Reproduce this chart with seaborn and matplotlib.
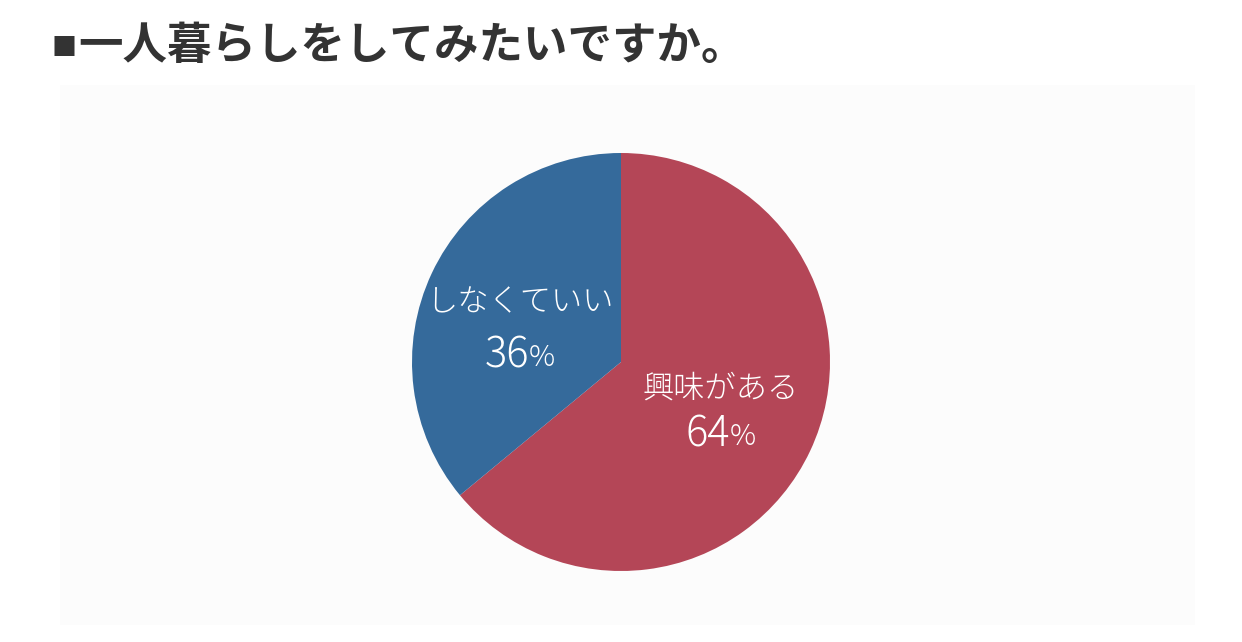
import matplotlib
matplotlib.use("Agg")
import matplotlib.pyplot as plt
import seaborn as sns
from matplotlib.patches import Rectangle

# data
labels = ["興味がある", "しなくていい"]
values = [64, 36]
colors = ["#b44657", "#356a9b"]
title_mark = "■"
title = "一人暮らしをしてみたいですか。"

sns.set_theme(style="white")
plt.rcParams["font.family"] = ["Noto Sans CJK JP", "DejaVu Sans"]

fig = plt.figure(figsize=(12.42, 6.42), dpi=100)
fig.patch.set_facecolor("white")

# faint panel behind the chart
fig.patches.append(Rectangle((60 / 1242, 1 - 625 / 642), 1135 / 1242, 540 / 642,
                             transform=fig.transFigure, facecolor="#fcfcfc",
                             edgecolor="none", zorder=-1))

ax = fig.add_axes([412 / 1242, 71 / 642, 418 / 1242, 418 / 642])
ax.patch.set_alpha(0)
ax.pie(values, colors=colors, startangle=90, counterclock=False,
       radius=1, wedgeprops=dict(linewidth=0))
ax.set_xlim(-1, 1)
ax.set_ylim(-1, 1)
ax.set_aspect("equal")
ax.axis("off")

# label positions (data coords inside the pie)
label_pos = [(0.475, -0.125), (-0.485, 0.285)]
pct_pos = [(0.47, -0.35), (-0.49, 0.03)]
for lab, val, (lx, ly), (px, py) in zip(labels, values, label_pos, pct_pos):
    ax.text(lx, ly, lab, color="white", fontsize=22.5, fontweight="light",
            ha="center", va="center")
    ax.text(px + 0.05, py, str(val), color="white", fontsize=30,
            fontweight="light", ha="right", va="center")
    ax.text(px + 0.05, py - 0.01, "%", color="white", fontsize=21,
            fontweight="light", ha="left", va="center")

fig.text(52 / 1242, 1 - 48 / 642, title_mark, fontsize=18, fontweight="bold",
         color="#333333", ha="left", va="center")
fig.text(78 / 1242, 1 - 46 / 642, title, fontsize=32, fontweight="bold",
         color="#333333", ha="left", va="center")

fig.savefig("out.png", dpi=100, facecolor="white")
